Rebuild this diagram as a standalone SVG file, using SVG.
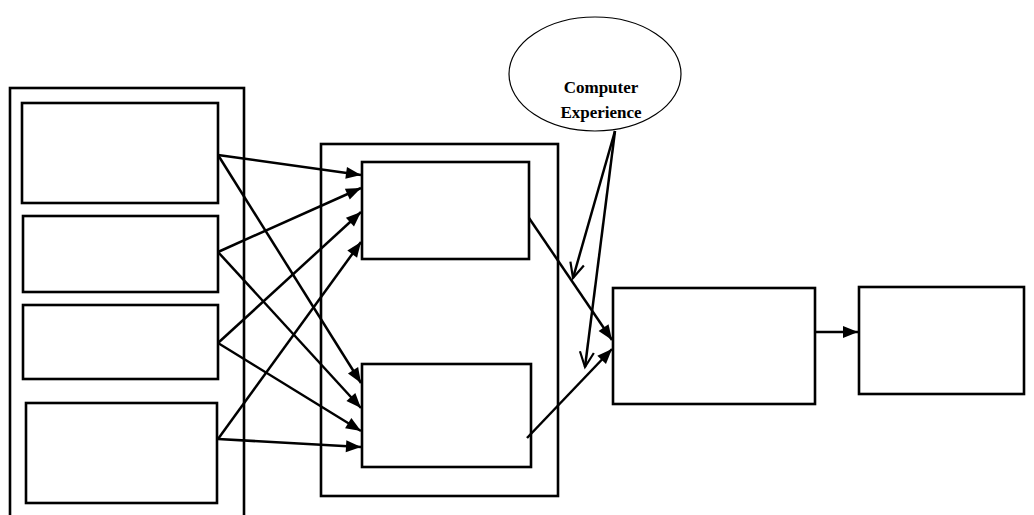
<svg xmlns="http://www.w3.org/2000/svg" width="1034" height="515" viewBox="0 0 1034 515">
<style>
.box{fill:#fff;stroke:#000;stroke-width:2.6}
.frame{fill:none;stroke:#000;stroke-width:2.6}
.ln{fill:none;stroke:#000;stroke-width:2.5}
.arr{marker-end:url(#fill)}
.opn{marker-end:url(#open)}
.lbl{font-family:"Liberation Serif","Times New Roman",serif;font-weight:bold;font-size:17px;text-anchor:middle;fill:#000}
</style>
<defs>
<marker id="fill" markerUnits="userSpaceOnUse" markerWidth="16" markerHeight="12" refX="15" refY="6" orient="auto" overflow="visible">
<path d="M0,0 L15,6 L0,12 z" fill="#000"/>
</marker>
<marker id="open" markerUnits="userSpaceOnUse" markerWidth="16" markerHeight="14" refX="15" refY="7" orient="auto" overflow="visible">
<path d="M0,0 L15,7 L0,14" fill="none" stroke="#000" stroke-width="2.2"/>
</marker>
</defs>
<rect width="1034" height="515" fill="#fff"/>
<g id="left-group">
<rect class="frame" x="10" y="88" width="234" height="440"/>
</g>
<g id="in1"><rect class="box" x="22" y="103" width="196" height="100"/></g>
<g id="in2"><rect class="box" x="23" y="216" width="195" height="76"/></g>
<g id="in3"><rect class="box" x="23" y="305" width="195" height="74"/></g>
<g id="in4"><rect class="box" x="26" y="403" width="191" height="100"/></g>
<g id="mid-group"><rect class="frame" x="321" y="144" width="237" height="352"/></g>
<g id="mid1"><rect class="box" x="362" y="162" width="167" height="97"/></g>
<g id="mid2"><rect class="box" x="362" y="364" width="169" height="103"/></g>
<g id="outA"><rect class="box" x="613" y="288" width="202" height="116"/></g>
<g id="outB"><rect class="box" x="859" y="287" width="165" height="107"/></g>
<g id="experience">
<ellipse cx="595" cy="74" rx="86" ry="57" fill="#fff" stroke="#000" stroke-width="1.2"/>
<text class="lbl" x="601" y="93">Computer</text>
<text class="lbl" x="601" y="118">Experience</text>
</g>
<g id="connectors">
<line class="ln arr" x1="218" y1="155" x2="361" y2="175"/>
<line class="ln arr" x1="218" y1="155" x2="361" y2="383"/>
<line class="ln arr" x1="218" y1="252" x2="361" y2="188"/>
<line class="ln arr" x1="218" y1="252" x2="361" y2="408"/>
<line class="ln arr" x1="218" y1="343" x2="361" y2="212"/>
<line class="ln arr" x1="218" y1="343" x2="361" y2="431"/>
<line class="ln arr" x1="218" y1="439" x2="361" y2="242"/>
<line class="ln arr" x1="218" y1="439" x2="361" y2="447"/>
<line class="ln arr" x1="529" y1="218" x2="612" y2="340"/>
<line class="ln arr" x1="527" y1="438" x2="612" y2="349"/>
<line class="ln arr" x1="815" y1="332" x2="858" y2="332"/>
<line class="ln opn" x1="615" y1="131" x2="573" y2="278"/>
<line class="ln opn" x1="615" y1="131" x2="585" y2="367"/>
</g>
</svg>
